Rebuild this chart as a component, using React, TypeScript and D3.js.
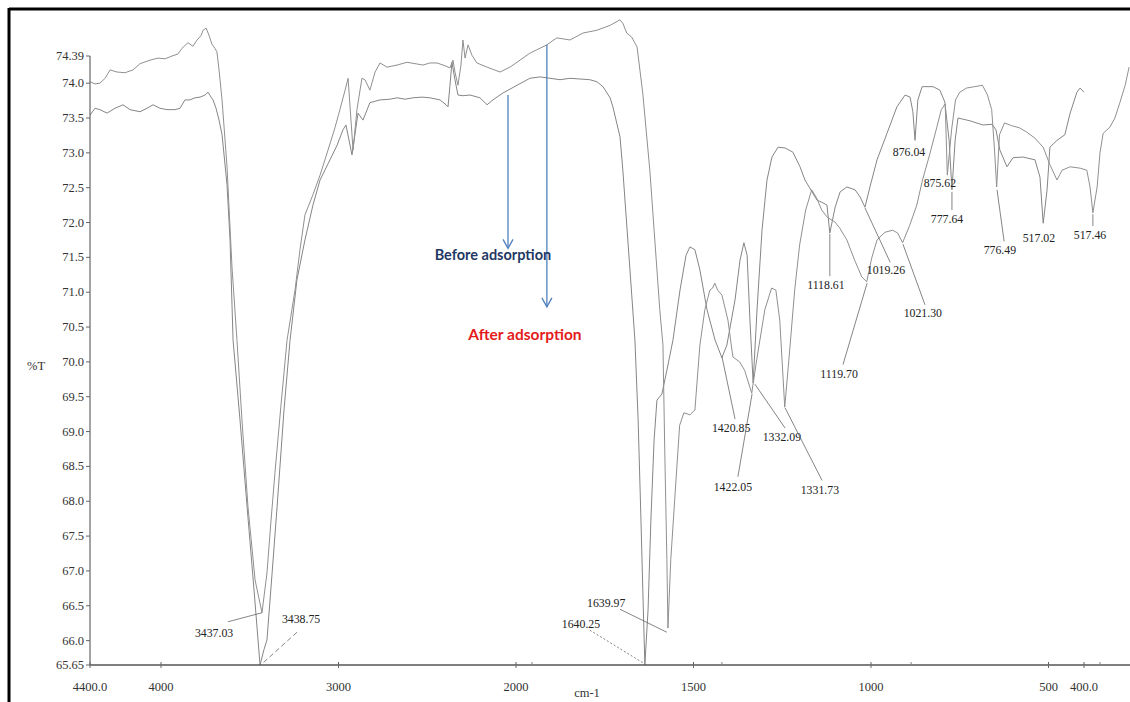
import React from "react";
import * as d3 from "d3";

const W = 1130;
const H = 702;

// FTIR spectra, [wavenumber cm-1, %T]
const afterSpectrum: [number, number][] = [
  [4400, 74.02], [4372, 73.99], [4344, 74.0], [4315, 74.07], [4287, 74.19], [4248, 74.16],
  [4203, 74.15], [4158, 74.19], [4118, 74.28], [4062, 74.33], [4017, 74.36], [3977, 74.35],
  [3938, 74.39], [3904, 74.42], [3882, 74.5], [3848, 74.58], [3820, 74.53], [3797, 74.62],
  [3775, 74.68], [3763, 74.76], [3746, 74.79], [3730, 74.69], [3713, 74.56], [3696, 74.5],
  [3685, 74.45], [3673, 74.19], [3656, 73.76], [3628, 72.8], [3600, 71.36], [3572, 70.31],
  [3544, 69.17], [3510, 67.92], [3470, 66.87], [3431, 66.4], [3403, 66.97], [3380, 67.73],
  [3358, 68.41], [3324, 69.38], [3290, 70.31], [3245, 71.03], [3217, 71.61], [3189, 72.11],
  [3144, 72.4], [3104, 72.68], [3059, 73.04], [3020, 73.36], [2992, 73.62], [2963, 73.9],
  [2946, 74.07], [2918, 73.04], [2896, 73.62], [2868, 74.07], [2851, 74.05], [2823, 73.9],
  [2794, 74.16], [2766, 74.29], [2727, 74.23], [2670, 74.26], [2614, 74.3], [2569, 74.28],
  [2524, 74.26], [2485, 74.29], [2445, 74.29], [2400, 74.25], [2372, 74.22], [2355, 74.33],
  [2344, 74.16], [2327, 73.97], [2310, 74.26], [2299, 74.62], [2287, 74.36], [2270, 74.55],
  [2248, 74.4], [2220, 74.29], [2163, 74.23], [2090, 74.16], [2034, 74.23], [1961, 74.43],
  [1913, 74.55], [1885, 74.65], [1848, 74.62], [1811, 74.72], [1772, 74.76], [1735, 74.83],
  [1707, 74.91], [1699, 74.86], [1688, 74.72], [1674, 74.66], [1659, 74.52], [1643, 73.86],
  [1623, 72.75], [1609, 71.75], [1595, 70.75], [1586, 70.24], [1581, 68.74], [1575, 67.16],
  [1572, 66.18], [1564, 67.16], [1553, 68.02], [1539, 69.09], [1527, 69.27], [1510, 69.24],
  [1496, 69.31], [1482, 70.24], [1468, 70.75], [1454, 71.03], [1446, 71.06], [1440, 71.13],
  [1432, 71.03], [1420, 70.96], [1403, 70.6], [1389, 70.07], [1370, 70.0], [1356, 69.88],
  [1336, 69.55], [1322, 70.03], [1299, 70.75], [1280, 71.06], [1268, 71.03], [1257, 70.6],
  [1243, 69.35], [1229, 70.17], [1215, 71.03], [1201, 71.68], [1184, 72.18], [1167, 72.47],
  [1153, 72.35], [1139, 72.18], [1122, 72.07], [1102, 72.01], [1088, 71.92], [1068, 71.75],
  [1046, 71.46], [1026, 71.22], [1012, 71.15], [998, 71.49], [983, 71.75], [961, 71.86],
  [939, 71.89], [925, 71.85], [911, 71.71], [891, 71.96], [871, 72.25], [855, 72.61],
  [835, 72.97], [815, 73.36], [802, 73.62], [791, 73.7], [785, 72.68], [773, 73.33],
  [762, 73.76], [750, 73.87], [731, 73.93], [708, 73.95], [686, 73.97], [672, 73.83],
  [660, 73.62], [652, 73.04], [646, 72.51], [638, 73.26], [624, 73.43], [604, 73.39],
  [582, 73.36], [562, 73.3], [538, 73.21], [515, 73.08], [496, 72.83], [476, 72.61],
  [462, 72.75], [439, 72.8], [411, 72.78], [392, 72.75], [383, 72.51], [375, 72.14],
  [363, 72.51], [355, 73.0], [346, 73.28], [327, 73.37], [313, 73.5], [299, 73.72],
  [284, 73.97], [273, 74.23],
];

const beforeSpectrum: [number, number][] = [
  [4400, 73.54], [4372, 73.64], [4344, 73.62], [4304, 73.57], [4259, 73.64], [4214, 73.69],
  [4175, 73.62], [4118, 73.59], [4079, 73.64], [4045, 73.69], [4006, 73.64], [3966, 73.62],
  [3921, 73.62], [3893, 73.64], [3865, 73.76], [3837, 73.76], [3808, 73.79], [3780, 73.8],
  [3752, 73.83], [3735, 73.87], [3718, 73.8], [3707, 73.76], [3690, 73.64], [3673, 73.47],
  [3656, 73.26], [3628, 72.54], [3611, 71.75], [3594, 70.31], [3555, 69.17], [3515, 67.92],
  [3476, 66.73], [3442, 65.65], [3420, 65.87], [3403, 66.01], [3375, 66.94], [3346, 67.92],
  [3307, 69.31], [3273, 70.31], [3234, 71.18], [3189, 71.75], [3144, 72.25], [3104, 72.61],
  [3048, 72.9], [3008, 73.11], [2975, 73.33], [2958, 73.4], [2924, 72.97], [2890, 73.57],
  [2862, 73.47], [2823, 73.72], [2766, 73.76], [2710, 73.77], [2670, 73.79], [2625, 73.77],
  [2580, 73.79], [2530, 73.8], [2485, 73.79], [2428, 73.76], [2394, 73.69], [2383, 73.66],
  [2372, 73.97], [2361, 74.3], [2344, 74.05], [2327, 73.83], [2299, 73.82], [2259, 73.83],
  [2203, 73.79], [2163, 73.69], [2130, 73.76], [2073, 73.86], [1997, 73.97], [1961, 74.07],
  [1932, 74.09], [1904, 74.07], [1876, 74.05], [1848, 74.07], [1820, 74.06], [1792, 74.05],
  [1772, 74.02], [1755, 73.95], [1735, 73.79], [1727, 73.66], [1707, 73.23], [1699, 72.75],
  [1685, 71.75], [1673, 70.89], [1665, 70.31], [1656, 69.17], [1648, 67.73], [1642, 66.58],
  [1637, 65.65], [1628, 66.44], [1620, 67.73], [1611, 68.88], [1603, 69.45], [1589, 69.54],
  [1575, 69.88], [1558, 70.31], [1538, 71.03], [1521, 71.53], [1510, 71.65], [1496, 71.61],
  [1482, 71.32], [1462, 70.75], [1439, 70.31], [1420, 70.06], [1406, 70.24], [1383, 70.89],
  [1369, 71.46], [1358, 71.71], [1349, 71.53], [1341, 70.6], [1332, 69.7], [1321, 70.75],
  [1307, 71.89], [1293, 72.61], [1279, 72.94], [1262, 73.08], [1242, 73.07], [1220, 73.01],
  [1200, 72.8], [1186, 72.61], [1166, 72.44], [1152, 72.32], [1138, 72.29], [1124, 72.25],
  [1116, 71.85], [1101, 72.22], [1087, 72.44], [1068, 72.51], [1045, 72.47], [1031, 72.37],
  [1017, 72.22], [1003, 72.51], [983, 72.9], [955, 73.28], [927, 73.66], [904, 73.83],
  [890, 73.8], [882, 73.59], [876, 73.18], [868, 73.76], [856, 73.95], [825, 73.95],
  [806, 73.9], [792, 73.73], [780, 73.18], [772, 72.47], [763, 73.18], [755, 73.5],
  [721, 73.46], [685, 73.4], [659, 73.41], [648, 73.33], [637, 73.04], [617, 72.8],
  [600, 72.93], [572, 72.94], [538, 72.9], [524, 72.65], [515, 71.99], [504, 72.47],
  [496, 73.08], [476, 73.18], [454, 73.26], [439, 73.57], [420, 73.87], [411, 73.93],
  [400, 73.87],
];

// axis ticks
const xTicks = [4400, 4000, 3000, 2000, 1500, 1000, 500, 400];
const xTickLabels = ["4400.0", "4000", "3000", "2000", "1500", "1000", "500", "400.0"];
const xMinorTicks = [1955, 1420, 887, 355];
const yTicks = [74.39, 74.0, 73.5, 73.0, 72.5, 72.0, 71.5, 71.0, 70.5, 70.0, 69.5, 69.0, 68.5, 68.0, 67.5, 67.0, 66.5, 66.0, 65.65];
const yTickLabels = ["74.39", "74.0", "73.5", "73.0", "72.5", "72.0", "71.5", "71.0", "70.5", "70.0", "69.5", "69.0", "68.5", "68.0", "67.5", "67.0", "66.5", "66.0", "65.65"];

// peak labels: text, label centre [wn, T], leader from -> to, dash
const peakLabels: { text: string; at: [number, number]; from?: [number, number]; to?: [number, number]; dash?: string }[] = [
  { text: "3437.03", at: [3701, 66.11], from: [3623, 66.27], to: [3431, 66.4] },
  { text: "3438.75", at: [3211, 66.31], from: [3234, 66.12], to: [3425, 65.68], dash: "5,3" },
  { text: "1640.25", at: [1817, 66.24], from: [1792, 66.15], to: [1642, 65.68], dash: "2,2" },
  { text: "1639.97", at: [1746, 66.54], from: [1707, 66.45], to: [1575, 66.12] },
  { text: "1420.85", at: [1394, 69.05], from: [1383, 69.18], to: [1420, 70.08] },
  { text: "1422.05", at: [1389, 68.2], from: [1375, 68.35], to: [1335, 69.54] },
  { text: "1332.09", at: [1251, 68.92], from: [1242, 69.05], to: [1327, 69.68] },
  { text: "1331.73", at: [1144, 68.16], from: [1138, 68.3], to: [1242, 69.34] },
  { text: "1119.70", at: [1090, 69.83], from: [1079, 69.96], to: [1011, 71.13] },
  { text: "1118.61", at: [1127, 71.1], from: [1116, 71.23], to: [1116, 71.84] },
  { text: "1019.26", at: [958, 71.32], from: [946, 71.43], to: [1017, 72.21] },
  { text: "1021.30", at: [854, 70.7], from: [848, 70.82], to: [910, 71.69] },
  { text: "876.04", at: [893, 73.01] },
  { text: "875.62", at: [806, 72.57] },
  { text: "777.64", at: [786, 72.05], from: [772, 72.18], to: [772, 72.44] },
  { text: "776.49", at: [637, 71.61], from: [625, 71.73], to: [645, 72.47] },
  { text: "517.02", at: [527, 71.78] },
  { text: "517.46", at: [383, 71.82], from: [375, 71.95], to: [375, 72.12] },
];

// arrows + captions
const arrows: { from: [number, number]; to: [number, number] }[] = [
  { from: [2045, 73.83], to: [2045, 71.63] },
  { from: [1913, 74.55], to: [1913, 70.79] },
];
const captions: { text: string; at: [number, number]; color: string; size: number }[] = [
  { text: "Before adsorption", at: [2130, 71.53], color: "#1F3864", size: 14.5 },
  { text: "After adsorption", at: [1975, 70.39], color: "#E41B1B", size: 15.5 },
];

const serif = "'Liberation Serif', 'DejaVu Serif', serif";

export default function App() {
  const x = d3.scaleLinear().domain([4400, 2000, 400]).range([90, 516, 1084]);
  const y = d3.scaleLinear().domain([65.65, 74.39]).range([665, 56]);
  const line = d3
    .line<[number, number]>()
    .x((d) => x(d[0]))
    .y((d) => y(d[1]));

  const y0 = y(65.65);

  return (
    <svg
      width={W}
      height={H}
      style={{ position: "absolute", left: 0, top: 0, background: "#fff" }}
    >
      <rect x={0} y={0} width={W} height={H} fill="#fff" />
      {/* frame */}
      <line x1={9} y1={9} x2={W} y2={9} stroke="#000" strokeWidth={3} />
      <line x1={9} y1={8} x2={9} y2={H} stroke="#000" strokeWidth={3} />

      {/* spectra */}
      <path d={line(beforeSpectrum) || ""} fill="none" stroke="#858585" strokeWidth={1} />
      <path d={line(afterSpectrum) || ""} fill="none" stroke="#909090" strokeWidth={1} />

      {/* axes */}
      <line x1={x(4400)} y1={y(74.39)} x2={x(4400)} y2={y0} stroke="#666" strokeWidth={1.2} />
      <line x1={x(4400)} y1={y0} x2={W} y2={y0} stroke="#555" strokeWidth={1.5} />
      {yTicks.map((t, i) => (
        <g key={"y" + i}>
          <line x1={x(4400) - 4} x2={x(4400)} y1={y(t)} y2={y(t)} stroke="#666" />
          <text
            x={x(4400) - 6}
            y={y(t) + 4}
            textAnchor="end"
            fontFamily={serif}
            fontSize={12.5}
            fill="#333"
          >
            {yTickLabels[i]}
          </text>
        </g>
      ))}
      {xTicks.map((t, i) => (
        <g key={"x" + i}>
          <line x1={x(t)} x2={x(t)} y1={y0 - 3} y2={y0 + 3} stroke="#666" />
          <text
            x={x(t)}
            y={y0 + 26}
            textAnchor="middle"
            fontFamily={serif}
            fontSize={12.5}
            fill="#333"
          >
            {xTickLabels[i]}
          </text>
        </g>
      ))}
      {xMinorTicks.map((t, i) => (
        <line key={"m" + i} x1={x(t)} x2={x(t)} y1={y0 - 3} y2={y0} stroke="#888" />
      ))}
      <text x={27} y={y(70.0) + 8} fontFamily={serif} fontSize={12.5} fill="#333">
        %T
      </text>
      <text x={587} y={697} textAnchor="middle" fontFamily={serif} fontSize={12.5} fill="#333">
        cm-1
      </text>

      {/* peak labels */}
      {peakLabels.map((p, i) => (
        <g key={"p" + i}>
          {p.from && p.to && (
            <line
              x1={x(p.from[0])}
              y1={y(p.from[1])}
              x2={x(p.to[0])}
              y2={y(p.to[1])}
              stroke="#666"
              strokeWidth={0.8}
              strokeDasharray={p.dash}
            />
          )}
          <text
            x={x(p.at[0])}
            y={y(p.at[1]) + 4}
            textAnchor="middle"
            fontFamily={serif}
            fontSize={11.8}
            fill="#222"
          >
            {p.text}
          </text>
        </g>
      ))}

      {/* arrows */}
      {arrows.map((a, i) => {
        const ax = x(a.from[0]);
        const ay1 = y(a.from[1]);
        const ay2 = y(a.to[1]);
        return (
          <g key={"a" + i} stroke="#4F81BD" strokeWidth={1.3} fill="none">
            <line x1={ax} y1={ay1} x2={ax} y2={ay2} />
            <polyline points={`${ax - 5},${ay2 - 9} ${ax},${ay2} ${ax + 5},${ay2 - 9}`} />
          </g>
        );
      })}
      {captions.map((c, i) => (
        <text
          key={"c" + i}
          x={x(c.at[0])}
          y={y(c.at[1]) + 5}
          textAnchor="middle"
          fontFamily="Lato, 'Open Sans', sans-serif"
          fontWeight="bold"
          fontSize={c.size}
          fill={c.color}
        >
          {c.text}
        </text>
      ))}
    </svg>
  );
}
